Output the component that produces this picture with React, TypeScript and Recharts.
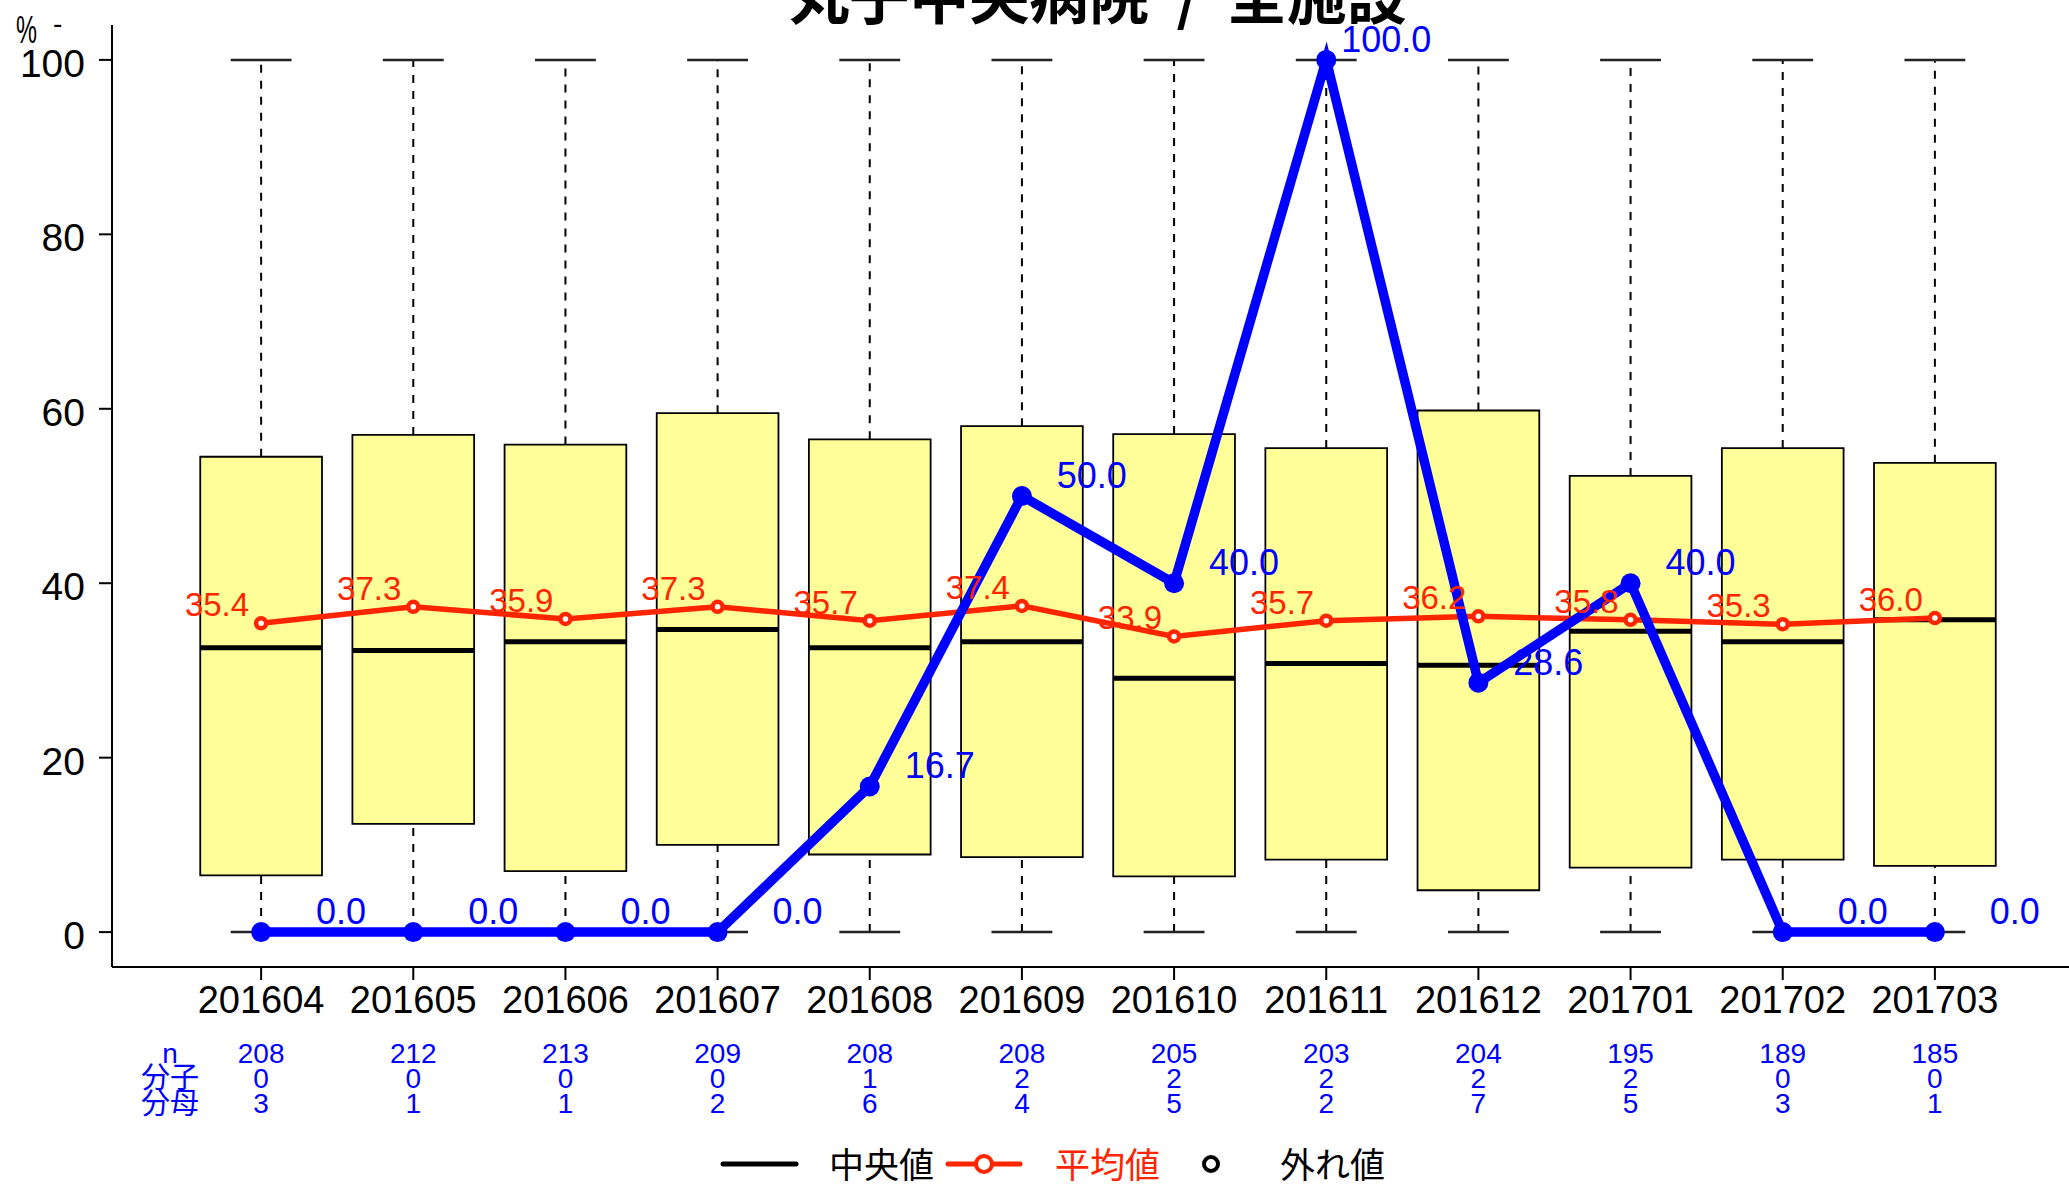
import {
  ComposedChart,
  Line,
  XAxis,
  YAxis,
  ReferenceArea,
  ReferenceLine,
  LabelList,
} from "recharts";

const months = [
  "201604", "201605", "201606", "201607", "201608", "201609",
  "201610", "201611", "201612", "201701", "201702", "201703",
];
const boxLow = [6.5, 12.4, 7.0, 10.0, 8.9, 8.6, 6.4, 8.3, 4.8, 7.4, 8.3, 7.6];
const boxHigh = [54.5, 57.0, 55.9, 59.5, 56.5, 58.0, 57.1, 55.5, 59.8, 52.3, 55.5, 53.8];
const medians = [32.6, 32.3, 33.3, 34.7, 32.6, 33.3, 29.1, 30.8, 30.6, 34.5, 33.3, 35.8];
const whiskerLow = [0, 0, 0, 0, 0, 0, 0, 0, 0, 0, 0, 0];
const whiskerHigh = [100, 100, 100, 100, 100, 100, 100, 100, 100, 100, 100, 100];
const means = [35.4, 37.3, 35.9, 37.3, 35.7, 37.4, 33.9, 35.7, 36.2, 35.8, 35.3, 36.0];
const hospital = [0.0, 0.0, 0.0, 0.0, 16.7, 50.0, 40.0, 100.0, 28.6, 40.0, 0.0, 0.0];
const nCounts = [208, 212, 213, 209, 208, 208, 205, 203, 204, 195, 189, 185];
const numerators = [0, 0, 0, 0, 1, 2, 2, 2, 2, 2, 0, 0];
const denominators = [3, 1, 1, 2, 6, 4, 5, 2, 7, 5, 3, 1];
const yTicks = [0, 20, 40, 60, 80, 100];

const title = "丸子中央病院  /  全施設";

const FONT = "'Liberation Sans', Arial, 'Noto Sans CJK JP', sans-serif";
const JP = "'Noto Sans CJK JP', 'Liberation Sans', sans-serif";
const BLUE = "#0000ff";
const RED = "#ff2500";
const BOX_FILL = "#ffff99";

const rows = months.map((m, i) => ({
  x: i + 1,
  month: m,
  mean: means[i],
  hosp: hospital[i],
}));

const XTick = (props: any) => {
  const { x, y, payload } = props;
  const i = Math.round(payload.value) - 1;
  if (i < 0 || i >= months.length) return null;
  return (
    <g>
      <text x={x} y={y + 31} textAnchor="middle" fontSize={38} fill="#000" fontFamily={FONT}>
        {months[i]}
      </text>
      <text x={x} y={y + 81} textAnchor="middle" fontSize={28} fill={BLUE} fontFamily={FONT}>
        {nCounts[i]}
      </text>
      <text x={x} y={y + 106} textAnchor="middle" fontSize={28} fill={BLUE} fontFamily={FONT}>
        {numerators[i]}
      </text>
      <text x={x} y={y + 131} textAnchor="middle" fontSize={28} fill={BLUE} fontFamily={FONT}>
        {denominators[i]}
      </text>
    </g>
  );
};

const YTick = (props: any) => {
  const { x, y, payload } = props;
  return (
    <text x={x - 12} y={y + 17} textAnchor="end" fontSize={39} fill="#000" fontFamily={FONT}>
      {payload.value}
    </text>
  );
};

const MeanLabel = (props: any) => {
  const { x, y, value } = props;
  return (
    <text x={x - 12} y={y - 7} textAnchor="end" fontSize={33} fill={RED} fontFamily={FONT}>
      {Number(value).toFixed(1)}
    </text>
  );
};

const HospLabel = (props: any) => {
  const { x, y, value } = props;
  return (
    <text x={x + 105} y={y - 8} textAnchor="end" fontSize={36} fill={BLUE} fontFamily={FONT}>
      {Number(value).toFixed(1)}
    </text>
  );
};

export default function App() {
  return (
    <div
      style={{
        position: "fixed",
        left: 0,
        top: 0,
        width: 2069,
        height: 1185,
        overflow: "hidden",
        background: "#fff",
      }}
    >
      <ComposedChart
        width={2100}
        height={1185}
        data={rows}
        margin={{ top: 25, right: 16, bottom: 0, left: 0 }}
      >
        <XAxis
          type="number"
          dataKey="x"
          domain={[0.02, 12.98]}
          ticks={rows.map((r) => r.x)}
          interval={0}
          height={218}
          tickSize={13}
          stroke="#000"
          strokeWidth={2}
          tick={<XTick />}
        />
        <YAxis
          type="number"
          domain={[-4, 104]}
          ticks={yTicks}
          interval={0}
          width={112}
          tickSize={13}
          stroke="#000"
          strokeWidth={2}
          tick={<YTick />}
        />
        {rows.map((r, i) => (
          <ReferenceLine
            key={`wl-${i}`}
            segment={[{ x: r.x, y: whiskerLow[i] }, { x: r.x, y: boxLow[i] }]}
            stroke="#000"
            strokeWidth={2}
            strokeDasharray="8 8"
          />
        ))}
        {rows.map((r, i) => (
          <ReferenceLine
            key={`wh-${i}`}
            segment={[{ x: r.x, y: boxHigh[i] }, { x: r.x, y: whiskerHigh[i] }]}
            stroke="#000"
            strokeWidth={2}
            strokeDasharray="8 8"
          />
        ))}
        {rows.map((r, i) => (
          <ReferenceLine
            key={`cl-${i}`}
            segment={[{ x: r.x - 0.2, y: whiskerLow[i] }, { x: r.x + 0.2, y: whiskerLow[i] }]}
            stroke="#222"
            strokeWidth={2.5}
          />
        ))}
        {rows.map((r, i) => (
          <ReferenceLine
            key={`ch-${i}`}
            segment={[{ x: r.x - 0.2, y: whiskerHigh[i] }, { x: r.x + 0.2, y: whiskerHigh[i] }]}
            stroke="#222"
            strokeWidth={2.5}
          />
        ))}
        {rows.map((r, i) => (
          <ReferenceArea
            key={`box-${i}`}
            x1={r.x - 0.4}
            x2={r.x + 0.4}
            y1={boxLow[i]}
            y2={boxHigh[i]}
            fill={BOX_FILL}
            fillOpacity={1}
            stroke="#000"
            strokeWidth={1.8}
          />
        ))}
        {rows.map((r, i) => (
          <ReferenceLine
            key={`med-${i}`}
            segment={[{ x: r.x - 0.4, y: medians[i] }, { x: r.x + 0.4, y: medians[i] }]}
            stroke="#000"
            strokeWidth={5}
          />
        ))}
        <Line
          type="linear"
          dataKey="mean"
          stroke={RED}
          strokeWidth={5.5}
          dot={{ r: 5, fill: "#fff", stroke: RED, strokeWidth: 4.5 }}
          activeDot={false}
          isAnimationActive={false}
        >
          <LabelList dataKey="mean" content={<MeanLabel />} />
        </Line>
        <Line
          type="linear"
          dataKey="hosp"
          stroke={BLUE}
          strokeWidth={9.5}
          dot={{ r: 10, fill: BLUE, stroke: BLUE, strokeWidth: 0 }}
          activeDot={false}
          isAnimationActive={false}
        >
          <LabelList dataKey="hosp" content={<HospLabel />} />
        </Line>
      </ComposedChart>

      <svg
        width={2069}
        height={1185}
        style={{ position: "absolute", left: 0, top: 0, pointerEvents: "none" }}
      >
        <text
          x={1098}
          y={19}
          textAnchor="middle"
          fontSize={60}
          fontWeight="bold"
          fill="#000"
          fontFamily={JP}
          style={{ whiteSpace: "pre" }}
        >
          {title}
        </text>
        <text x={16} y={43} fontSize={38} textLength={21} lengthAdjust="spacingAndGlyphs" fill="#000" fontFamily={FONT}>
          %
        </text>
        <text x={53} y={33} fontSize={28} fill="#000" fontFamily={FONT}>
          -
        </text>

        <text x={170} y={1063} textAnchor="middle" fontSize={28} fill={BLUE} fontFamily={FONT}>
          n
        </text>
        <text x={170} y={1088} textAnchor="middle" fontSize={29} fill={BLUE} fontFamily={JP}>
          分子
        </text>
        <text x={170} y={1114} textAnchor="middle" fontSize={29} fill={BLUE} fontFamily={JP}>
          分母
        </text>

        <line x1={723} y1={1164} x2={796} y2={1164} stroke="#000" strokeWidth={5} strokeLinecap="round" />
        <text x={829} y={1178} fontSize={35} fill="#000" fontFamily={JP}>中央値</text>
        <line x1={948} y1={1164} x2={1020} y2={1164} stroke={RED} strokeWidth={5} strokeLinecap="round" />
        <circle cx={984} cy={1164} r={8} fill="#fff" stroke={RED} strokeWidth={4} />
        <text x={1055} y={1178} fontSize={35} fill={RED} fontFamily={JP}>平均値</text>
        <circle cx={1211} cy={1164} r={7} fill="#fff" stroke="#000" strokeWidth={4} />
        <text x={1280} y={1178} fontSize={35} fill="#000" fontFamily={JP}>外れ値</text>
      </svg>
    </div>
  );
}
